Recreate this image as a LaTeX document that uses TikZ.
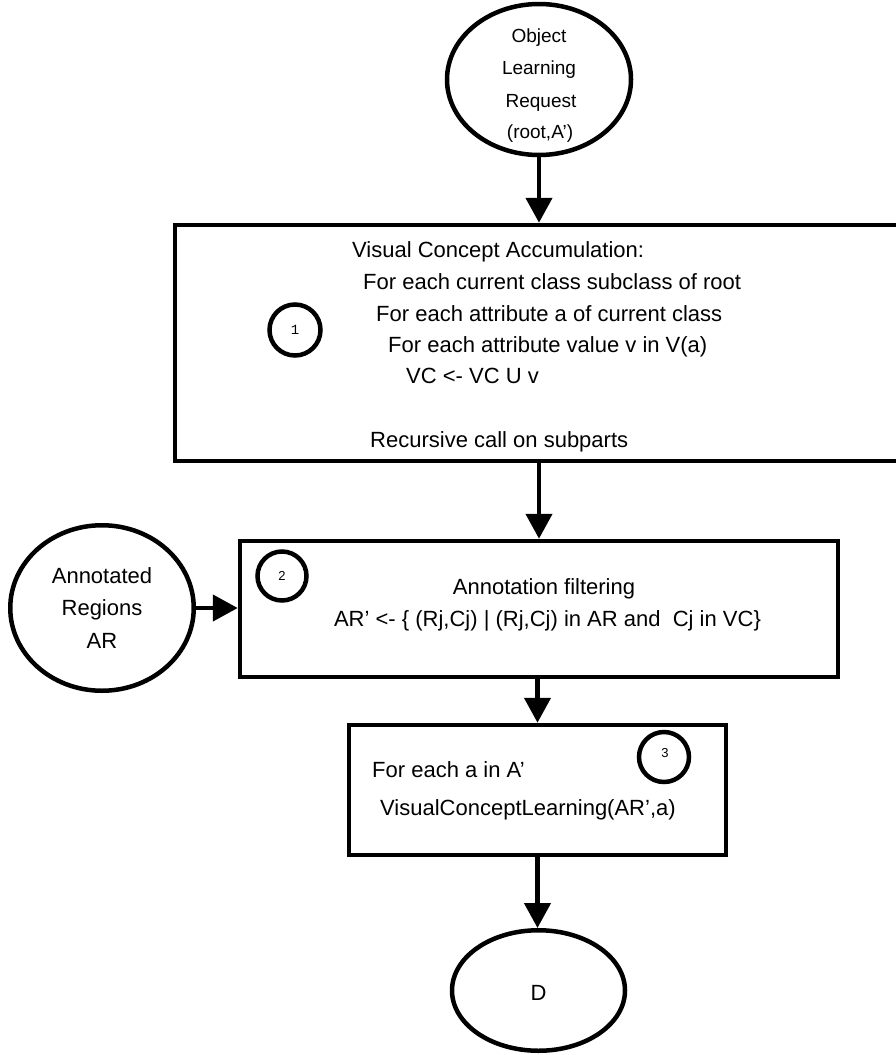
\documentclass[tikz,border=0pt]{standalone}
\usepackage{fontspec}
\setmainfont{Liberation Sans}
\newfontfamily\monof{Liberation Mono}
\usetikzlibrary{arrows.meta,shapes.geometric}
\tikzset{
  boxst/.style={draw=black,line width=4.5pt,rectangle,inner sep=0pt,fill=white},
  ellst/.style={draw=black,line width=4.5pt,ellipse,inner sep=0pt,fill=white},
  numst/.style={draw=black,line width=4.5pt,circle,inner sep=0pt},
  txt/.style={inner sep=0pt,font=\fontsize{22}{26}\selectfont},
  txtsmall/.style={inner sep=0pt,font=\fontsize{19}{23}\selectfont},
  arr/.style={line width=4.5pt,-{Triangle[length=25pt,width=26pt]}}
}
\begin{document}
\begin{tikzpicture}[x=1pt,y=-1pt]
\clip (0,0) rectangle (896,1055);
\fill[white] (0,0) rectangle (896,1055);

% top ellipse
\node[ellst,minimum width=184pt,minimum height=151pt] (top) at (539,79.5) {};
\node[txtsmall,anchor=base] (t1) at (539,42) {Object};
\node[txtsmall,anchor=base] (t2) at (539,74) {Learning};
\node[txtsmall,anchor=base] (t3) at (541,107) {Request};
\node[txtsmall,anchor=base] (t4) at (540,138) {(root,A’)};

% box 1
\node[boxst,minimum width=785pt,minimum height=236pt] (b1) at (567.5,343) {};
\node[numst,minimum size=51pt] (c1) at (295,330) {};
\node[inner sep=0pt,font=\monof\fontsize{14}{16}\selectfont] (n1) at (c1) {1};
\node[txt,anchor=base west] (l1) at (352,257) {Visual Concept Accumulation:};
\node[txt,anchor=base west] (l2) at (363,289) {For each current class subclass of root};
\node[txt,anchor=base west] (l3) at (376,321) {For each attribute a of current class};
\node[txt,anchor=base west] (l4) at (388,352) {For each attribute value v in V(a)};
\node[txt,anchor=base west] (l5) at (406,383) {VC <- VC U v};
\node[txt,anchor=base west] (l6) at (370,447) {Recursive call on subparts};

% annotated regions
\node[ellst,minimum width=183.5pt,minimum height=165.5pt] (ann) at (102,608) {};
\node[txt,anchor=base] (a1) at (102,583) {Annotated};
\node[txt,anchor=base] (a2) at (102,615) {Regions};
\node[txt,anchor=base] (a3) at (102,648) {AR};

% box 2
\node[boxst,minimum width=598pt,minimum height=136pt] (b2) at (539,609) {};
\node[numst,minimum size=49pt] (c2) at (282,576) {};
\node[inner sep=0pt,font=\fontsize{13}{15}\selectfont] (n2) at (c2) {2};
\node[txt,anchor=base] (m1) at (544,594) {Annotation filtering};
\node[txt,anchor=base] (m2) at (547.5,626) {AR’ <- \{ (Rj,Cj) | (Rj,Cj) in AR and\ \ Cj in VC\}};

% box 3
\node[boxst,minimum width=377pt,minimum height=130pt] (b3) at (537.5,790) {};
\node[numst,minimum size=50pt] (c3) at (664,757) {};
\node[inner sep=0pt,font=\fontsize{13}{15}\selectfont] (n3) at (665,753) {3};
\node[txt,anchor=base west] (k1) at (372,777) {For each a in A’};
\node[txt,anchor=base west] (k2) at (380,815) {VisualConceptLearning(AR’,a)};

% end ellipse
\node[ellst,minimum width=173pt,minimum height=120.5pt] (D) at (538.5,990.5) {};
\node[txt] (d1) at (538.5,993) {D};

% connectors
\draw[arr] (top.south) -- (top.south |- b1.north);
\draw[arr] (b2.north |- b1.south) -- (b2.north);
\draw[arr] (ann.east) -- (ann.east -| b2.west);
\draw[arr] (b3.north |- b2.south) -- (b3.north);
\draw[arr] (b3.south) -- (b3.south |- D.north);
\end{tikzpicture}
\end{document}
